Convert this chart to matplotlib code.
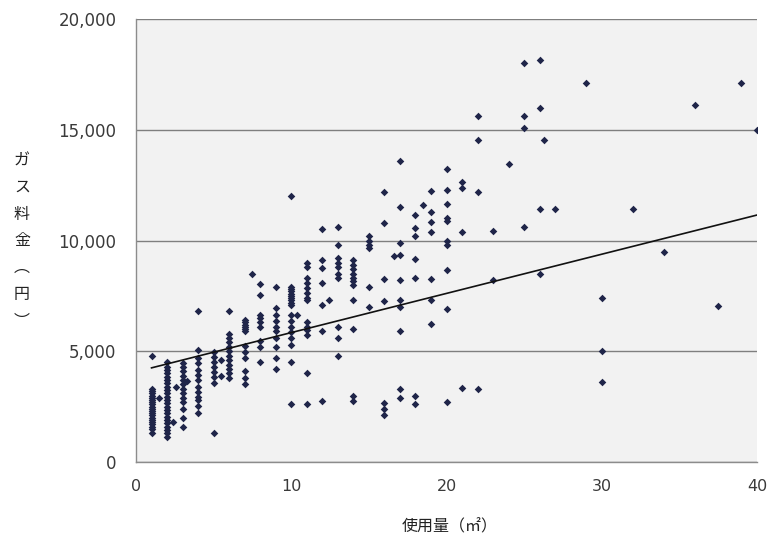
import matplotlib
matplotlib.use("Agg")
import matplotlib.pyplot as plt
import numpy as np

# ---- data ----
usage_cols = [1, 1.5, 2, 2.4, 2.6, 3, 3.3, 4, 5, 5.5, 6, 7, 7.5, 8, 9, 10, 10.4,
              11, 12, 12.4, 13, 14, 15, 16, 16.6, 17, 18, 18.5, 19, 20, 21, 22,
              23, 24, 25, 26, 26.3, 27, 29, 30, 32, 34, 36, 37.5, 39, 40]
fee_cols = [
    [1300, 1500, 1600, 1700, 1800, 1900, 2000, 2100, 2200, 2300, 2400, 2500, 2600,
     2700, 2800, 2900, 3000, 3100, 3200, 3300, 4800],
    [2900],
    [1150, 1300, 1450, 1600, 1750, 1900, 2050, 2200, 2350, 2500, 2650, 2800, 2950,
     3100, 3250, 3400, 3550, 3700, 3850, 4000, 4150, 4300, 4500],
    [1800],
    [3400],
    [1600, 2000, 2400, 2700, 2900, 3100, 3300, 3500, 3700, 3900, 4100, 4300, 4450],
    [3650],
    [2200, 2550, 2800, 2950, 3150, 3400, 3700, 3950, 4150, 4450, 4700, 5050, 6800],
    [1300, 3550, 3850, 4050, 4300, 4500, 4750, 4950],
    [3900, 4600],
    [3800, 4000, 4200, 4400, 4600, 4800, 5000, 5200, 5400, 5600, 5800, 6800],
    [3500, 3800, 4100, 4700, 4950, 5250, 5900, 6000, 6100, 6200, 6300, 6400],
    [8500],
    [4500, 5200, 5450, 6100, 6300, 6500, 6650, 7550, 8050],
    [4200, 4700, 5200, 5600, 5900, 6100, 6350, 6650, 6950, 7900],
    [2600, 4500, 5300, 5600, 5850, 6100, 6350, 6650, 7100, 7200, 7300, 7400, 7500,
     7600, 7700, 7800, 7900, 12000],
    [6650],
    [2600, 4000, 5750, 5950, 6100, 6300, 7300, 7400, 7650, 7850, 8100, 8300, 8800, 9000],
    [2750, 5900, 7100, 8100, 8750, 9100, 10500],
    [7300],
    [4800, 5600, 6100, 8300, 8500, 8800, 9000, 9200, 9800, 10600],
    [2750, 3000, 6000, 7300, 8000, 8150, 8300, 8500, 8700, 8900, 9100],
    [7000, 7900, 9650, 9800, 10000, 10200],
    [2100, 2400, 2650, 7250, 8250, 10800, 12200],
    [9300],
    [2900, 3300, 5900, 7000, 7300, 8200, 9350, 9900, 11500, 13600],
    [2600, 3000, 8300, 9150, 10200, 10550, 11150],
    [11600],
    [6250, 7300, 8250, 10400, 10850, 11300, 12250],
    [2700, 6900, 8650, 9800, 10000, 10900, 11000, 11650, 12300, 13250],
    [3350, 10400, 12350, 12650],
    [3300, 12200, 14550, 15600],
    [8200, 10450],
    [13450],
    [10600, 15100, 15600, 18000],
    [8500, 11400, 16000, 18150],
    [14550],
    [11400],
    [17100],
    [3600, 5000, 7400],
    [11400],
    [9500],
    [16100],
    [7050],
    [17100],
    [15000],
]
trend_x = [1, 40]
trend_y = [4250, 11150]

x_ticks = [0, 10, 20, 30, 40]
y_ticks = [0, 5000, 10000, 15000, 20000]
y_tick_labels = ["0", "5,000", "10,000", "15,000", "20,000"]
x_label = "使用量（㎡）"
y_label = "ガス料金︵円︶"

# ---- flatten ----
usage = []
fee = []
for xv, ys in zip(usage_cols, fee_cols):
    for yv in ys:
        usage.append(xv)
        fee.append(yv)

plt.rcParams['font.family'] = ['DejaVu Sans', 'Noto Sans CJK JP']

fig = plt.figure(figsize=(7.69, 5.44), dpi=100)
ax = fig.add_axes([136/769, 1-462/544, (757-136)/769, (462-19)/544])
ax.set_facecolor("#f2f2f2")

ax.set_xlim(0, 40)
ax.set_ylim(0, 20000)
ax.set_xticks(x_ticks)
ax.set_yticks(y_ticks)
ax.set_yticklabels(y_tick_labels)
ax.tick_params(axis='both', length=0, colors="#3a3a3a")
ax.tick_params(axis='y', pad=14, labelsize=12)
ax.tick_params(axis='x', pad=12, labelsize=11.5)

ax.grid(axis='y', color="#7f7f7f", linewidth=1.0)
ax.set_axisbelow(True)
for s in ['top', 'right']:
    ax.spines[s].set_visible(False)
for s in ['left', 'bottom']:
    ax.spines[s].set_color("#8c8c8c")
    ax.spines[s].set_linewidth(1.0)

ax.scatter(usage, fee, marker='D', s=15, color="#1f2549", linewidths=0, zorder=3)
ax.plot(trend_x, trend_y, color="#111111", linewidth=1.2, zorder=4)

fig.text(22/769, 1-241/544, "\n".join(y_label), family=['Noto Sans CJK JP'],
         fontsize=11.5, ha='center', va='center', linespacing=1.75, color="#222222")
fig.text(450/769, 1-527/544, x_label, family=['Noto Sans CJK JP', 'DejaVu Sans'],
         fontsize=11.5, ha='center', va='center', color="#222222")

fig.savefig("out.png", dpi=100)
